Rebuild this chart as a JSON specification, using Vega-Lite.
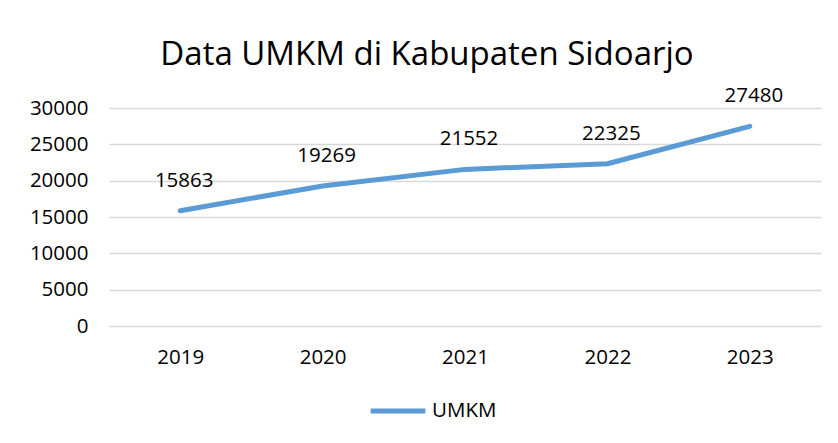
{
  "$schema": "https://vega.github.io/schema/vega-lite/v6.json",
  "autosize": "none",
  "width": 712,
  "height": 218,
  "padding": {"left": 109, "top": 108, "right": 17, "bottom": 117},
  "background": "white",
  "config": {
    "view": {"stroke": null},
    "font": "Open Sans"
  },
  "title": {
    "text": "Data UMKM di Kabupaten Sidoarjo",
    "font": "Open Sans",
    "fontSize": 33,
    "fontWeight": "normal",
    "color": "#000000",
    "anchor": "middle",
    "frame": "group",
    "offset": 14,
    "dx": -38
  },
  "data": {
    "values": [
      {"tahun": "2019", "jumlah": 15863, "seri": "UMKM"},
      {"tahun": "2020", "jumlah": 19269, "seri": "UMKM"},
      {"tahun": "2021", "jumlah": 21552, "seri": "UMKM"},
      {"tahun": "2022", "jumlah": 22325, "seri": "UMKM"},
      {"tahun": "2023", "jumlah": 27480, "seri": "UMKM"}
    ]
  },
  "encoding": {
    "x": {
      "field": "tahun",
      "type": "ordinal",
      "scale": {"type": "point", "padding": 0.5},
      "axis": {
        "title": null,
        "labelAngle": 0,
        "domain": false,
        "ticks": false,
        "grid": false,
        "labelFont": "Open Sans",
        "labelFontSize": 20.5,
        "labelColor": "#000000",
        "labelPadding": 21
      }
    },
    "y": {
      "field": "jumlah",
      "type": "quantitative",
      "scale": {"domain": [0, 30000]},
      "axis": {
        "title": null,
        "values": [0, 5000, 10000, 15000, 20000, 25000, 30000],
        "format": "d",
        "domain": false,
        "ticks": false,
        "gridColor": "#D9D9D9",
        "gridWidth": 1.3,
        "labelFont": "Open Sans",
        "labelFontSize": 20.5,
        "labelColor": "#000000",
        "labelPadding": 21
      }
    }
  },
  "layer": [
    {
      "mark": {"type": "line", "strokeWidth": 5, "strokeCap": "round", "strokeJoin": "round"},
      "encoding": {
        "color": {
          "field": "seri",
          "type": "nominal",
          "scale": {"range": ["#5B9BD5"]},
          "legend": {
            "title": null,
            "orient": "none",
            "legendX": 259,
            "legendY": 273,
            "symbolType": "stroke",
            "symbolSize": 3000,
            "symbolStrokeWidth": 5,
            "labelFont": "Open Sans",
            "labelFontSize": 20.5,
            "labelColor": "#000000",
            "labelOffset": 4
          }
        }
      }
    },
    {
      "mark": {"type": "text", "dy": -30, "dx": 4, "font": "Open Sans", "fontSize": 20.5, "color": "#000000"},
      "encoding": {
        "text": {"field": "jumlah", "type": "quantitative", "format": "d"}
      }
    }
  ]
}
